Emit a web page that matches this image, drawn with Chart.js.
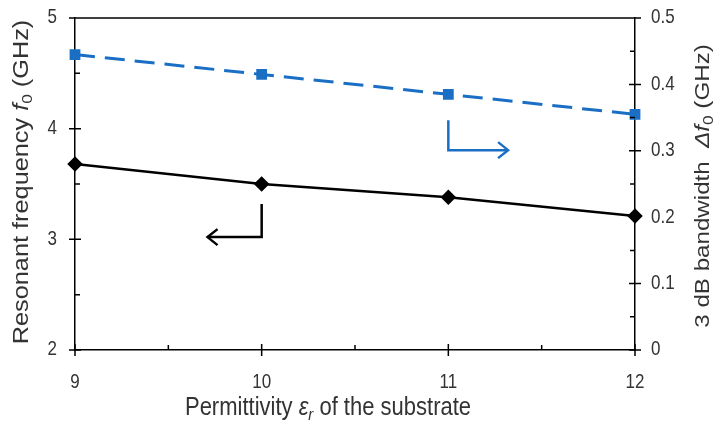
<!DOCTYPE html>
<html><head><meta charset="utf-8">
<script src="https://cdn.jsdelivr.net/npm/chart.js@4"></script>
<style>html,body{margin:0;padding:0;background:#fff}</style>
</head><body>
<canvas id="c" width="723" height="425"></canvas>
<script>
const permittivity = [9, 10, 11, 12];
const resonantFreq = [3.68, 3.50, 3.38, 3.21];
const bandwidth = [0.445, 0.415, 0.385, 0.355];
const xTicks = [9, 10, 11, 12];
const xMinor = [9.5, 10.5, 11.5];
const yTicks = [2, 3, 4, 5];
const yMinor = [2.5, 3.5, 4.5];
const y1Ticks = [0, 0.1, 0.2, 0.3, 0.4, 0.5];
const y1Minor = [0.05, 0.15, 0.25, 0.35, 0.45];
// annotation arrows, in data units
const blackArrow = {x: 10, yTop: 3.32, yBottom: 3.02, xTip: 9.71};
const blueArrow = {x: 11, yTop: 0.346, yBottom: 0.301, xTip: 11.32};

const FONT = '"Liberation Sans", Arial, sans-serif';
const TEXT = '#333';
const BLUE = '#1a6fc4';
const STRETCH = 1.15;

function fontOf(s, size) { return (s.italic ? 'italic ' : '') + (s.sub ? Math.round(size * 0.7) : size) + 'px ' + FONT; }
function drawRich(ctx, segs, cx, cy, rot, size) {
  ctx.save();
  ctx.translate(cx, cy); ctx.scale(1, STRETCH); ctx.rotate(rot);
  let total = 0;
  segs.forEach(s => { ctx.font = fontOf(s, size); total += ctx.measureText(s.t).width; });
  let x = -total / 2;
  ctx.textBaseline = 'middle'; ctx.textAlign = 'left'; ctx.fillStyle = TEXT;
  segs.forEach(s => { ctx.font = fontOf(s, size); ctx.fillText(s.t, x, s.sub ? 6 : 0); x += ctx.measureText(s.t).width; });
  ctx.restore();
}
function drawLabel(ctx, txt, x, y, align) {
  ctx.save();
  ctx.translate(x, y); ctx.scale(1, STRETCH);
  ctx.font = '17px ' + FONT; ctx.fillStyle = TEXT;
  ctx.textAlign = align; ctx.textBaseline = 'middle';
  ctx.fillText(txt, 0, 0);
  ctx.restore();
}
function fmt(v) { return String(Number(v.toFixed(2))); }

const decor = {
  id: 'decor',
  afterDraw(chart) {
    const ctx = chart.ctx, a = chart.chartArea;
    const sx = chart.scales.x, sy = chart.scales.y, sy1 = chart.scales.y1;
    ctx.save();
    ctx.strokeStyle = '#000'; ctx.lineWidth = 1.5;
    const M = 6, m = 5;
    ctx.beginPath();
    ctx.moveTo(a.left - M, a.top); ctx.lineTo(a.right + M, a.top);
    yTicks.forEach(v => { const p = sy.getPixelForValue(v); ctx.moveTo(a.left - M, p); ctx.lineTo(a.left + M, p); });
    yMinor.forEach(v => { const p = sy.getPixelForValue(v); ctx.moveTo(a.left, p); ctx.lineTo(a.left + m, p); });
    y1Ticks.forEach(v => { const p = sy1.getPixelForValue(v); ctx.moveTo(a.right - M, p); ctx.lineTo(a.right + M, p); });
    y1Minor.forEach(v => { const p = sy1.getPixelForValue(v); ctx.moveTo(a.right - m, p); ctx.lineTo(a.right, p); });
    xTicks.forEach(v => { const p = sx.getPixelForValue(v); ctx.moveTo(p, a.bottom - M); ctx.lineTo(p, a.bottom + M); });
    xMinor.forEach(v => { const p = sx.getPixelForValue(v); ctx.moveTo(p, a.bottom - m); ctx.lineTo(p, a.bottom); });
    ctx.stroke();

    // tick labels
    yTicks.forEach(v => drawLabel(ctx, fmt(v), a.left - 18, sy.getPixelForValue(v), 'right'));
    y1Ticks.forEach(v => drawLabel(ctx, fmt(v), a.right + 16, sy1.getPixelForValue(v), 'left'));
    xTicks.forEach(v => drawLabel(ctx, fmt(v), sx.getPixelForValue(v), a.bottom + 33, 'center'));

    // arrows
    ctx.lineWidth = 2.5; ctx.lineCap = 'butt'; ctx.lineJoin = 'miter';
    let x0 = sx.getPixelForValue(blackArrow.x), y0 = sy.getPixelForValue(blackArrow.yTop);
    let y1 = sy.getPixelForValue(blackArrow.yBottom), xt = sx.getPixelForValue(blackArrow.xTip);
    ctx.strokeStyle = '#000';
    ctx.beginPath(); ctx.moveTo(x0, y0); ctx.lineTo(x0, y1); ctx.lineTo(xt, y1); ctx.stroke();
    ctx.beginPath(); ctx.moveTo(xt + 10, y1 - 8); ctx.lineTo(xt, y1); ctx.lineTo(xt + 10, y1 + 8); ctx.stroke();
    x0 = sx.getPixelForValue(blueArrow.x); y0 = sy1.getPixelForValue(blueArrow.yTop);
    y1 = sy1.getPixelForValue(blueArrow.yBottom); xt = sx.getPixelForValue(blueArrow.xTip);
    ctx.strokeStyle = BLUE;
    ctx.beginPath(); ctx.moveTo(x0, y0); ctx.lineTo(x0, y1); ctx.lineTo(xt, y1); ctx.stroke();
    ctx.beginPath(); ctx.moveTo(xt - 10, y1 - 8); ctx.lineTo(xt, y1); ctx.lineTo(xt - 10, y1 + 8); ctx.stroke();
    ctx.restore();

    // axis titles
    const cy = (a.top + a.bottom) / 2;
    drawRich(ctx, [{t: 'Resonant frequency '}, {t: 'f', italic: true}, {t: '0', sub: true}, {t: ' (GHz)'}], 22, cy - 2, -Math.PI / 2, 22);
    drawRich(ctx, [{t: '3 dB bandwidth  '}, {t: 'Δf', italic: true}, {t: '0', sub: true}, {t: ' (GHz)'}], 703, cy + 2, -Math.PI / 2, 21);
    drawRich(ctx, [{t: 'Permittivity '}, {t: 'ε', italic: true}, {t: 'r', italic: true, sub: true}, {t: ' of the substrate'}], 328, 408, 0, 22);
  }
};

new Chart(document.getElementById('c'), {
  type: 'line',
  data: {
    datasets: [
      {
        data: permittivity.map((x, i) => ({x, y: resonantFreq[i]})),
        yAxisID: 'y', borderColor: '#000', backgroundColor: '#000', borderWidth: 2.5,
        pointStyle: 'rectRot', pointRadius: 6, pointHoverRadius: 6, clip: false
      },
      {
        data: permittivity.map((x, i) => ({x, y: bandwidth[i]})),
        yAxisID: 'y1', borderColor: BLUE, backgroundColor: BLUE, borderWidth: 3,
        borderDash: [20, 10], pointStyle: 'rect', pointRadius: 5.5, pointHoverRadius: 5.5, clip: false
      }
    ]
  },
  options: {
    responsive: false, animation: false,
    layout: {padding: {top: 18, left: 0, right: 0, bottom: 0}},
    plugins: {legend: {display: false}, tooltip: {enabled: false}},
    scales: {
      x: {
        type: 'linear', min: 9, max: 12,
        afterBuildTicks: s => { s.ticks = xTicks.map(v => ({value: v})); },
        afterFit: s => { s.height = 75; },
        grid: {drawOnChartArea: false, drawTicks: false},
        border: {display: true, color: '#000', width: 1.5},
        ticks: {display: false}
      },
      y: {
        type: 'linear', position: 'left', min: 2, max: 5,
        afterBuildTicks: s => { s.ticks = yTicks.map(v => ({value: v})); },
        afterFit: s => { s.width = 75; },
        grid: {drawOnChartArea: false, drawTicks: false},
        border: {display: true, color: '#000', width: 1.5},
        ticks: {display: false}
      },
      y1: {
        type: 'linear', position: 'right', min: 0, max: 0.5,
        afterBuildTicks: s => { s.ticks = y1Ticks.map(v => ({value: v})); },
        afterFit: s => { s.width = 88; },
        grid: {drawOnChartArea: false, drawTicks: false},
        border: {display: true, color: '#000', width: 1.5},
        ticks: {display: false}
      }
    }
  },
  plugins: [decor]
});
</script>
</body></html>
